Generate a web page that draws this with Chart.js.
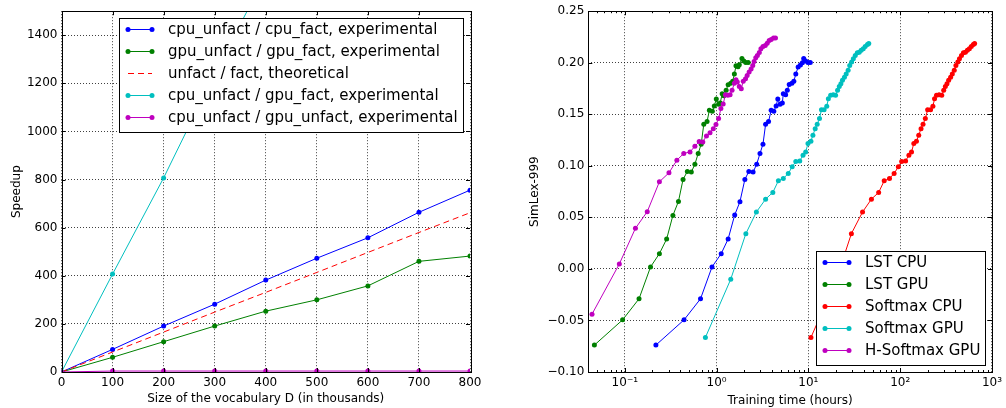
<!DOCTYPE html>
<html>
<head>
<meta charset="utf-8">
<script src="https://cdn.jsdelivr.net/npm/chart.js@4.4.0/dist/chart.umd.min.js"></script>
<style>
body { margin: 0; background: #fff; }
#wrap { position: relative; width: 1006px; height: 408px; }
.box { position: absolute; top: 0; height: 408px; }
</style>
</head>
<body>
<div id="wrap">
  <div class="box" style="left:0;width:500px"><canvas id="speedChart"></canvas></div>
  <div class="box" style="left:500px;width:506px"><canvas id="simlexChart"></canvas></div>
</div>
<script>
// left panel: speedup vs vocabulary size
const vocabSizes = [0, 100, 200, 300, 400, 500, 600, 700, 800];
const cpuOverCpuFact = [0, 94, 191, 282, 382, 473, 558, 664, 756];
const gpuOverGpuFact = [0, 61, 126, 191, 253, 300, 358, 460, 482];
const theoretical = [0, 83, 166, 249, 331, 414, 497, 580, 662];
const cpuOverGpuFact = [0, 407, 807, 1240, 1650, 2060, 2470, 2880, 3290];
const cpuOverGpuUnfact = [0, 4, 4, 4, 4, 4, 4, 4, 4];
const speedXTicks = [0, 100, 200, 300, 400, 500, 600, 700, 800];
const speedYTicks = [0, 200, 400, 600, 800, 1000, 1200, 1400];

// right panel: SimLex-999 vs training time
const lstCpuTime = [0.218, 0.442, 0.668, 0.891, 1.122, 1.335, 1.574, 1.796, 2.032, 2.244, 2.497, 2.735, 2.97, 3.20, 3.418, 3.68, 3.93, 4.20, 4.45, 4.64, 4.91, 5.20, 5.33, 5.65, 5.89, 6.18, 6.61, 6.94, 7.29, 7.73, 8.19, 8.60, 8.89, 9.34, 9.90, 10.49];
const lstCpuScore = [-0.0739, -0.0494, -0.029, 0.0019, 0.0148, 0.029, 0.0523, 0.0652, 0.0868, 0.0945, 0.0939, 0.1016, 0.112, 0.121, 0.1403, 0.1429, 0.1539, 0.153, 0.158, 0.1648, 0.1597, 0.161, 0.170, 0.169, 0.1732, 0.179, 0.180, 0.182, 0.189, 0.1958, 0.1977, 0.200, 0.204, 0.2016, 0.2003, 0.2003];
const lstGpuTime = [0.0466, 0.0946, 0.1428, 0.1906, 0.238, 0.2856, 0.334, 0.384, 0.431, 0.480, 0.530, 0.580, 0.630, 0.679, 0.725, 0.787, 0.834, 0.898, 0.944, 0.992, 1.051, 1.095, 1.150, 1.199, 1.270, 1.335, 1.426, 1.498, 1.561, 1.626, 1.71, 1.767, 1.888, 1.98, 2.08, 2.21];
const lstGpuScore = [-0.0739, -0.0494, -0.029, 0.0019, 0.0148, 0.029, 0.0519, 0.0655, 0.0868, 0.0945, 0.0939, 0.1016, 0.112, 0.121, 0.1403, 0.1429, 0.1539, 0.153, 0.158, 0.1648, 0.1597, 0.161, 0.170, 0.168, 0.1732, 0.1787, 0.180, 0.182, 0.189, 0.197, 0.196, 0.198, 0.204, 0.2016, 0.2003, 0.2003];
const softCpuTime = [10.66, 20.2, 29.4, 38.9, 48.6, 58.3, 67.0, 76.5, 85.9, 95.5, 103.8, 114.6, 124.4, 132.9, 140.8, 150.4, 159.3, 168.8, 177.4, 187.9, 199.1, 214.4, 227.2, 236.8, 248.7, 265.6, 283.8, 298, 310.5, 323.6, 337.3, 354.5, 369.6, 388.3, 404.6, 424.7, 442.6, 465.6, 488.9, 513.8, 539.8, 567.4, 595.7, 626.5, 647.1];
const softCpuScore = [-0.0665, -0.010, 0.0342, 0.0552, 0.0677, 0.0742, 0.0855, 0.0877, 0.0926, 0.099, 0.1042, 0.1048, 0.1103, 0.1135, 0.1216, 0.1239, 0.1297, 0.136, 0.1403, 0.1458, 0.1545, 0.1545, 0.1577, 0.165, 0.1684, 0.169, 0.1684, 0.1732, 0.177, 0.1797, 0.183, 0.186, 0.189, 0.1926, 0.1974, 0.2006, 0.2039, 0.207, 0.2097, 0.2103, 0.212, 0.2135, 0.2158, 0.2177, 0.2187];
const softGpuTime = [0.755, 1.426, 2.083, 2.713, 3.418, 4.097, 4.71, 5.33, 6.04, 6.66, 7.29, 8.05, 8.74, 9.34, 9.90, 10.66, 11.2, 11.86, 12.47, 13.21, 13.88, 14.83, 15.85, 16.5, 17.48, 18.67, 19.78, 20.8, 21.7, 22.6, 23.5, 24.7, 25.8, 27.1, 28.2, 29.6, 30.9, 32.4, 34.1, 35.8, 37.6, 39.6, 41.6, 44.0, 45.5];
const softGpuScore = [-0.0665, -0.010, 0.0342, 0.0552, 0.0677, 0.0742, 0.0855, 0.0877, 0.0926, 0.099, 0.1042, 0.1048, 0.1103, 0.1135, 0.1216, 0.1239, 0.1297, 0.136, 0.1403, 0.1458, 0.1545, 0.1545, 0.1577, 0.165, 0.1684, 0.169, 0.1684, 0.1732, 0.177, 0.1797, 0.183, 0.186, 0.189, 0.1926, 0.1974, 0.2006, 0.2039, 0.207, 0.2097, 0.2103, 0.212, 0.2135, 0.2158, 0.2177, 0.2187];
const hSoftTime = [0.0439, 0.0871, 0.1305, 0.1755, 0.238, 0.3026, 0.369, 0.4385, 0.513, 0.580, 0.646, 0.707, 0.775, 0.848, 0.921, 0.984, 1.051, 1.113, 1.179, 1.249, 1.324, 1.402, 1.473, 1.561, 1.626, 1.681, 1.767, 1.856, 1.950, 2.066, 2.152, 2.262, 2.377, 2.477, 2.56, 2.67, 2.78, 2.92, 3.04, 3.20, 3.39, 3.56, 3.74, 3.93, 4.17, 4.38];
const hSoftScore = [-0.0439, 0.0048, 0.0394, 0.0555, 0.0845, 0.0932, 0.1055, 0.112, 0.1135, 0.119, 0.1235, 0.1232, 0.129, 0.132, 0.136, 0.140, 0.1458, 0.1555, 0.160, 0.169, 0.1684, 0.169, 0.1732, 0.180, 0.1835, 0.1813, 0.177, 0.1748, 0.182, 0.1845, 0.1877, 0.191, 0.194, 0.1974, 0.2013, 0.2048, 0.207, 0.210, 0.2135, 0.2158, 0.2168, 0.219, 0.2216, 0.2226, 0.2239, 0.2239];
const simXTicks = [0.1, 1, 10, 100, 1000];
const simYTicks = [-0.10, -0.05, 0.00, 0.05, 0.10, 0.15, 0.20, 0.25];

const FONT = 'DejaVu Sans';
const SUP = { '-': '\u207B', '0': '\u2070', '1': '\u00B9', '2': '\u00B2', '3': '\u00B3' };

function pts(xs, ys) {
  return xs.map((x, i) => ({ x: x, y: ys[i] }));
}

function series(label, xs, ys, color, idx, extra) {
  return Object.assign({
    label: label,
    data: pts(xs, ys),
    showLine: true,
    borderColor: color,
    backgroundColor: color,
    borderWidth: 1,
    pointRadius: 2.5,
    pointBorderWidth: 0,
    pointBackgroundColor: color,
    order: 10 - idx
  }, extra || {});
}

// frame + inward tick marks, matplotlib style
const frameTicks = {
  id: 'frameTicks',
  afterDatasetsDraw(chart, args, opts) {
    const ctx = chart.ctx, a = chart.chartArea;
    const xs = chart.scales.x, ys = chart.scales.y;
    ctx.save();
    ctx.strokeStyle = '#000';
    ctx.lineWidth = 1;
    ctx.beginPath();
    const vmark = (v, len) => {
      const p = Math.round(xs.getPixelForValue(v)) + 0.5;
      if (p < a.left || p > a.right) return;
      ctx.moveTo(p, a.top); ctx.lineTo(p, a.top + len);
      ctx.moveTo(p, a.bottom); ctx.lineTo(p, a.bottom - len);
    };
    const hmark = (v, len) => {
      const p = Math.round(ys.getPixelForValue(v)) + 0.5;
      ctx.moveTo(a.left, p); ctx.lineTo(a.left + len, p);
      ctx.moveTo(a.right, p); ctx.lineTo(a.right - len, p);
    };
    xs.ticks.forEach(t => vmark(t.value, 4));
    ys.ticks.forEach(t => hmark(t.value, 4));
    (opts.xMinor || []).forEach(v => vmark(v, 2));
    ctx.stroke();
    ctx.strokeRect(Math.round(a.left) + 0.5, Math.round(a.top) + 0.5,
      Math.round(a.width), Math.round(a.height));
    ctx.restore();
  }
};

// boxed legend inside the plot area
const boxLegend = {
  id: 'boxLegend',
  afterDatasetsDraw(chart, args, opts) {
    const ctx = chart.ctx, a = chart.chartArea;
    const items = chart.data.datasets;
    ctx.save();
    ctx.font = '15px "' + FONT + '"';
    let tw = 0;
    items.forEach(d => { tw = Math.max(tw, ctx.measureText(d.label).width); });
    const w = Math.round(9 + 24 + 16 + tw + 5);
    const rowH = 22;
    const h = items.length * rowH + 4;
    const x = Math.round(a.right - opts.inset - w);
    const y = Math.round(opts.top ? a.top + opts.inset : a.bottom - opts.inset - h);
    ctx.fillStyle = '#fff';
    ctx.fillRect(x, y, w, h);
    ctx.strokeStyle = '#000';
    ctx.lineWidth = 1;
    ctx.strokeRect(x + 0.5, y + 0.5, w, h);
    items.forEach((d, i) => {
      const cy = y + 11.5 + i * rowH;
      ctx.strokeStyle = d.borderColor;
      ctx.setLineDash(d.borderDash || []);
      ctx.beginPath();
      ctx.moveTo(x + 9, cy);
      ctx.lineTo(x + 33, cy);
      ctx.stroke();
      ctx.setLineDash([]);
      if (d.pointRadius > 0) {
        ctx.fillStyle = d.borderColor;
        [x + 9, x + 33].forEach(px => {
          ctx.beginPath();
          ctx.arc(px, cy, d.pointRadius, 0, Math.PI * 2);
          ctx.fill();
        });
      }
      ctx.fillStyle = '#000';
      ctx.textBaseline = 'middle';
      ctx.fillText(d.label, x + 49, cy + 1);
    });
    ctx.restore();
  }
};

function axisTitle(text, pad) {
  return { display: true, text: text, color: '#000', font: { family: FONT, size: 12 }, padding: pad };
}

const gridOpts = { color: 'rgba(0,0,0,0.75)', lineWidth: 1, drawTicks: false };
const borderOpts = { display: false, dash: [1, 2] };
const tickFont = { family: FONT, size: 12 };

const ctx1 = document.querySelector('#speedChart').getContext('2d');

new Chart(ctx1, {
  type: 'scatter',
  data: {
    datasets: [
      series('cpu_unfact / cpu_fact, experimental', vocabSizes, cpuOverCpuFact, '#0000ff', 0),
      series('gpu_unfact / gpu_fact, experimental', vocabSizes, gpuOverGpuFact, '#008000', 1),
      series('unfact / fact, theoretical', vocabSizes, theoretical, '#ff0000', 2, { pointRadius: 0, borderDash: [6, 4] }),
      series('cpu_unfact / gpu_fact, experimental', vocabSizes, cpuOverGpuFact, '#00bfbf', 3),
      series('cpu_unfact / gpu_unfact, experimental', vocabSizes, cpuOverGpuUnfact, '#bf00bf', 4)
    ]
  },
  options: {
    responsive: true,
    maintainAspectRatio: false,
    animation: false,
    events: [],
    layout: { padding: { top: 11, right: 30, left: 0, bottom: 0 } },
    plugins: {
      legend: { display: false },
      tooltip: { enabled: false },
      boxLegend: { inset: 7, top: true }
    },
    scales: {
      x: {
        type: 'linear',
        min: 0, max: 800,
        afterBuildTicks: s => { s.ticks = speedXTicks.map(v => ({ value: v })); },
        afterFit: s => { s.height = 36; },
        ticks: { color: '#000', font: tickFont, padding: 4, maxRotation: 0, autoSkip: false, callback: v => String(v) },
        grid: gridOpts,
        border: borderOpts,
        title: axisTitle('Size of the vocabulary D (in thousands)', { top: 0, bottom: 2 })
      },
      y: {
        type: 'linear',
        min: 0, max: 1500,
        afterBuildTicks: s => { s.ticks = speedYTicks.map(v => ({ value: v })); },
        afterFit: s => { s.width = 61.5; },
        ticks: { color: '#000', font: tickFont, padding: 4, autoSkip: false, callback: v => String(v) },
        grid: gridOpts,
        border: borderOpts,
        title: axisTitle('Speedup', { top: 10, bottom: 0 })
      }
    }
  },
  plugins: [frameTicks, boxLegend]
});

// minor log ticks (2..9 per decade) inside the visible range
const logMinor = [];
for (let e = -2; e <= 2; e++) {
  for (let k = 2; k <= 9; k++) {
    const v = k * Math.pow(10, e);
    if (v >= 0.04 && v <= 1000) logMinor.push(v);
  }
}

const ctx2 = document.querySelector('#simlexChart').getContext('2d');

new Chart(ctx2, {
  type: 'scatter',
  data: {
    datasets: [
      series('LST CPU', lstCpuTime, lstCpuScore, '#0000ff', 0),
      series('LST GPU', lstGpuTime, lstGpuScore, '#008000', 1),
      series('Softmax CPU', softCpuTime, softCpuScore, '#ff0000', 2),
      series('Softmax GPU', softGpuTime, softGpuScore, '#00bfbf', 3),
      series('H-Softmax GPU', hSoftTime, hSoftScore, '#bf00bf', 4)
    ]
  },
  options: {
    responsive: true,
    maintainAspectRatio: false,
    animation: false,
    events: [],
    layout: { padding: { top: 10.7, right: 7.7, left: 0, bottom: 0 } },
    plugins: {
      legend: { display: false },
      tooltip: { enabled: false },
      frameTicks: { xMinor: logMinor },
      boxLegend: { inset: 7, top: false }
    },
    scales: {
      x: {
        type: 'logarithmic',
        min: 0.04, max: 1000,
        afterBuildTicks: s => { s.ticks = simXTicks.map(v => ({ value: v })); },
        afterFit: s => { s.height = 36; },
        ticks: {
          color: '#000', font: tickFont, padding: 4, maxRotation: 0, autoSkip: false,
          callback: v => '10' + String(Math.round(Math.log10(v))).split('').map(c => SUP[c]).join('')
        },
        grid: gridOpts,
        border: borderOpts,
        title: axisTitle('Training time (hours)', { top: 0, bottom: 0 })
      },
      y: {
        type: 'linear',
        min: -0.10, max: 0.25,
        afterBuildTicks: s => { s.ticks = simYTicks.map(v => ({ value: v })); },
        afterFit: s => { s.width = 88.3; },
        ticks: {
          color: '#000', font: tickFont, padding: 4, autoSkip: false,
          callback: v => (v < -1e-9 ? '\u2212' : '') + Math.abs(v).toFixed(2)
        },
        grid: gridOpts,
        border: borderOpts,
        title: axisTitle('SimLex-999', { top: 28, bottom: 0 })
      }
    }
  },
  plugins: [frameTicks, boxLegend]
});
</script>
</body>
</html>
